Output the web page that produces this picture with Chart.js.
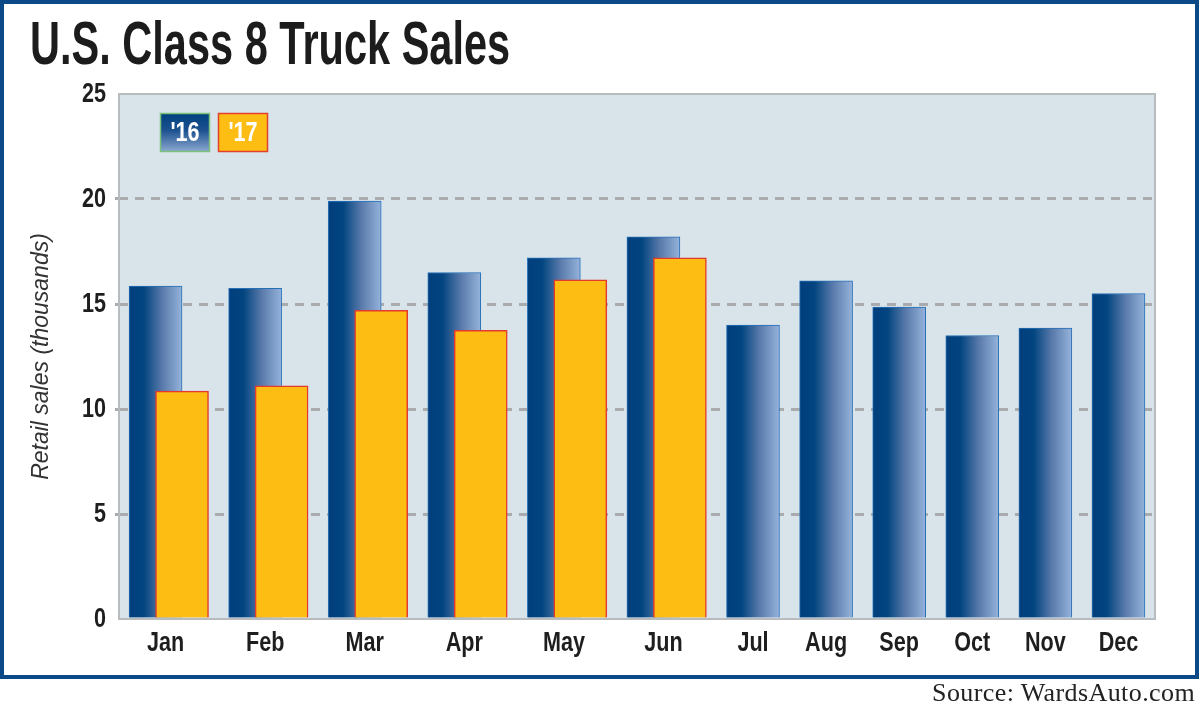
<!DOCTYPE html>
<html>
<head>
<meta charset="utf-8">
<script src="https://cdn.jsdelivr.net/npm/chart.js@4.4.1/dist/chart.umd.min.js"></script>
<style>
  body { margin: 0; background: #fff; width: 1200px; height: 711px; overflow: hidden; position: relative; }
  #wrap { position: absolute; left: 0; top: 0; width: 1200px; height: 711px; }
  #frame { position: absolute; left: 0; top: 0; width: 1199px; height: 679px; border: 4px solid #0b4a86; box-sizing: border-box; pointer-events: none; }
  #title { position: absolute; left: 30px; top: 13px; font-family: 'Liberation Sans', sans-serif; font-weight: bold; font-size: 61px; line-height: 1; color: #1c1c1c; white-space: nowrap; transform-origin: 0 0; }
  #source { position: absolute; right: 5px; top: 680px; font-family: 'Liberation Serif', serif; font-size: 26px; letter-spacing: 0.4px; line-height: 1; color: #222; white-space: nowrap; }
</style>
</head>
<body>
<div id="wrap"><canvas id="truckChart" width="1200" height="711"></canvas></div>
<div id="frame"></div>
<div id="title">U.S. Class 8 Truck Sales</div>
<div id="source">Source: WardsAuto.com</div>
<script>
// Retail sales, thousands of units
const months = ['Jan', 'Feb', 'Mar', 'Apr', 'May', 'Jun', 'Jul', 'Aug', 'Sep', 'Oct', 'Nov', 'Dec'];
const seriesLabels = ["'16", "'17"];
const sales16 = [15.85, 15.75, 19.9, 16.5, 17.2, 18.2, 14.0, 16.1, 14.85, 13.5, 13.85, 15.5];
const sales17 = [10.85, 11.1, 14.7, 13.75, 16.15, 17.2, null, null, null, null, null, null];
const yTicks = [0, 5, 10, 15, 20, 25];

// Month slots: widths measured in bar widths. '17 bar overlaps '16 by half a bar.
const GAP = 0.38;
const SHIFT = 0.5;
const centers16 = [], centers17 = [], monthCenters = [];
let pos = 0;
months.forEach((m, i) => {
    const both = sales17[i] != null;
    const slot = 1 + (both ? SHIFT : 0) + GAP;
    centers16.push(pos + GAP / 2 + 0.5);
    centers17.push(both ? pos + GAP / 2 + 0.5 + SHIFT : null);
    monthCenters.push(pos + slot / 2 - (both ? 0.06 : 0));
    pos += slot;
});
const totalUnits = pos;

const points16 = sales16.map((v, i) => ({ x: centers16[i], y: v }));
const points17 = sales17.map((v, i) => ({ x: centers17[i], y: v })).filter(p => p.y != null);

// no condensed face installed, so labels are squeezed horizontally
const labelFont = "bold 27px 'Liberation Sans', sans-serif";
const SQUEEZE = 0.8;

function squeezedText(ctx, text, x, y, align, baseline) {
    ctx.save();
    ctx.translate(x, y);
    ctx.scale(SQUEEZE, 1);
    ctx.textAlign = align;
    ctx.textBaseline = baseline;
    ctx.fillText(text, 0, 0);
    ctx.restore();
}

function unitPx(chart) {
    const xs = chart.scales.x;
    return xs.getPixelForValue(1) - xs.getPixelForValue(0);
}

function navyGradient(c) {
    const chart = c.chart;
    if (!chart.chartArea || !c.raw) return '#1f4f88';
    const cx = chart.scales.x.getPixelForValue(c.raw.x);
    const half = unitPx(chart) / 2;
    const g = chart.ctx.createLinearGradient(cx - half, 0, cx + half, 0);
    g.addColorStop(0, '#003e7c');
    g.addColorStop(0.28, '#024580');
    g.addColorStop(0.62, '#5879aa');
    g.addColorStop(1, '#95b3db');
    return g;
}

// plot background, frame, tick labels and the boxed legend
const plotDecor = {
    id: 'plotDecor',
    beforeDraw(chart) {
        const a = chart.chartArea, ctx = chart.ctx;
        ctx.save();
        ctx.fillStyle = '#d8e3ea';
        ctx.fillRect(a.left, a.top, a.width, a.height);
        ctx.restore();
    },
    afterDraw(chart) {
        const a = chart.chartArea, ctx = chart.ctx;
        const xs = chart.scales.x, ys = chart.scales.y;
        ctx.save();
        ctx.strokeStyle = '#b9bcbf';
        ctx.lineWidth = 2;
        ctx.strokeRect(a.left, a.top, a.width, a.height);

        ctx.font = labelFont;
        ctx.fillStyle = '#1e1e1e';
        months.forEach((m, i) => {
            squeezedText(ctx, m, xs.getPixelForValue(monthCenters[i]), a.bottom + 11, 'center', 'top');
        });
        yTicks.forEach(v => {
            squeezedText(ctx, String(v), a.left - 13, ys.getPixelForValue(v) + 1, 'right', 'middle');
        });

        const boxes = [
            { x: 160, fill: null, stroke: '#7cc27a' },
            { x: 218, fill: '#fdbd13', stroke: '#e2402f' }
        ];
        const y = 113, w = 50, h = 39;
        boxes.forEach((b, i) => {
            let fill = b.fill;
            if (!fill) {
                fill = ctx.createLinearGradient(0, y, 0, y + h);
                fill.addColorStop(0, '#003f7d');
                fill.addColorStop(0.45, '#1d5290');
                fill.addColorStop(1, '#8eaad2');
            }
            ctx.fillStyle = fill;
            ctx.fillRect(b.x, y, w, h);
            ctx.strokeStyle = b.stroke;
            ctx.lineWidth = 1.5;
            ctx.strokeRect(b.x + 0.5, y + 0.5, w - 1, h - 1);
            ctx.fillStyle = '#fff';
            ctx.font = labelFont;
            squeezedText(ctx, seriesLabels[i], b.x + w / 2, y + h / 2 + 1, 'center', 'middle');
        });
        ctx.restore();
    }
};

const ctx = document.getElementById('truckChart').getContext('2d');
const chart = new Chart(ctx, {
    type: 'bar',
    data: {
        datasets: [
            {
                label: seriesLabels[0],
                data: points16,
                backgroundColor: navyGradient,
                borderColor: '#2470b8',
                borderWidth: 1,
                grouped: false,
                order: 2
            },
            {
                label: seriesLabels[1],
                data: points17,
                backgroundColor: '#fdbd13',
                borderColor: '#e4392c',
                borderWidth: 1.5,
                grouped: false,
                order: 1
            }
        ]
    },
    options: {
        responsive: false,
        animation: false,
        layout: { padding: { left: 0, right: 45, top: 94, bottom: 42 } },
        plugins: {
            legend: { display: false },
            tooltip: { enabled: false }
        },
        scales: {
            x: {
                type: 'linear',
                min: 0,
                max: totalUnits,
                offset: false,
                grid: { display: false, drawTicks: false },
                border: { display: false },
                afterBuildTicks: s => { s.ticks = monthCenters.map(v => ({ value: v })); },
                afterFit: s => { s.height = 50; },
                ticks: { display: false }
            },
            y: {
                min: 0,
                max: 25,
                afterBuildTicks: s => { s.ticks = yTicks.map(v => ({ value: v })); },
                afterFit: s => { s.width = 119; },
                grid: {
                    drawTicks: true,
                    tickLength: 4,
                    tickBorderDash: [],
                    lineWidth: 3,
                    color: c => (c.tick && (c.tick.value === 0 || c.tick.value === 25)) ? 'rgba(0,0,0,0)' : '#a9abad'
                },
                border: { display: false, dash: [9, 7] },
                ticks: { display: false },
                title: {
                    display: true,
                    text: 'Retail sales (thousands)',
                    color: '#333',
                    padding: { top: 28, bottom: 0 },
                    font: { family: "'Liberation Sans', sans-serif", style: 'italic', size: 23 }
                }
            }
        }
    },
    plugins: [plotDecor]
});

// one bar = one x unit
const barPx = unitPx(chart);
chart.data.datasets.forEach(ds => { ds.barThickness = barPx; });
chart.update('none');

// squeeze the title to the condensed width of the original
const titleEl = document.getElementById('title');
titleEl.style.transform = 'scaleX(' + (480 / titleEl.offsetWidth) + ')';
</script>
</body>
</html>
